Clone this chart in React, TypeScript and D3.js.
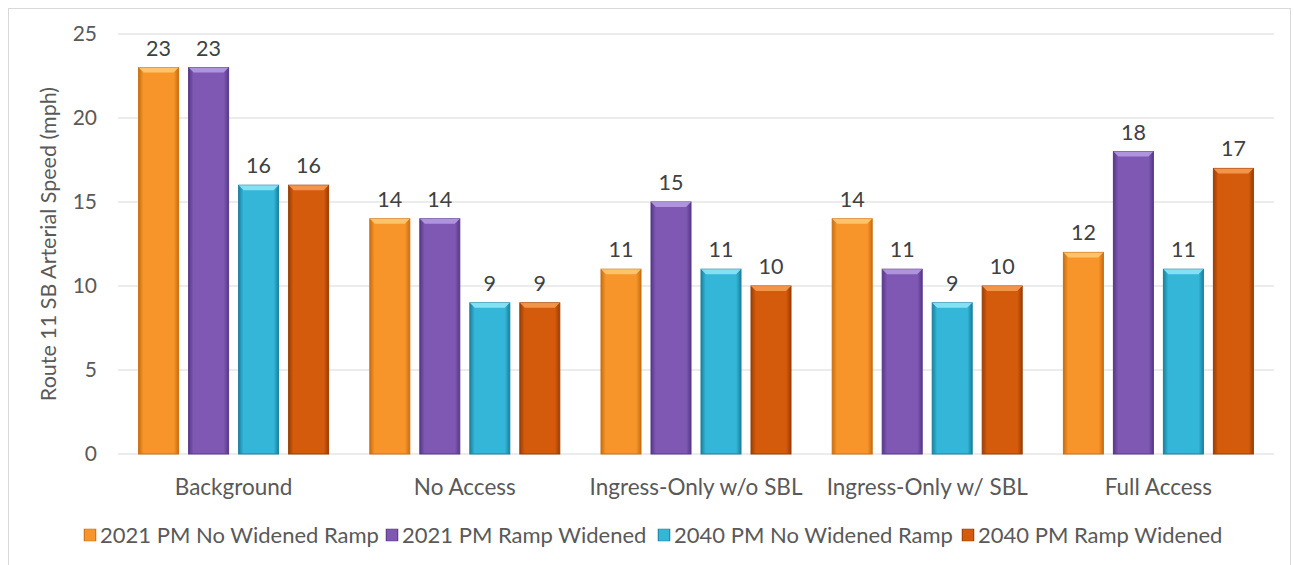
import React from "react";
import * as d3 from "d3";

const categories = ["Background", "No Access", "Ingress-Only w/o SBL", "Ingress-Only w/ SBL", "Full Access"];
const seriesNames = ["2021 PM No Widened Ramp", "2021 PM Ramp Widened", "2040 PM No Widened Ramp", "2040 PM Ramp Widened"];
const s2021NoWiden = [23, 14, 11, 14, 12];
const s2021Widen = [23, 14, 15, 11, 18];
const s2040NoWiden = [16, 9, 11, 9, 11];
const s2040Widen = [16, 9, 10, 10, 17];
const yTicks = [0, 5, 10, 15, 20, 25];

const seriesValues = [s2021NoWiden, s2021Widen, s2040NoWiden, s2040Widen];
const colors = [
  { base: "#F7952A", dark: "#C96E10", light: "#FFC870" },
  { base: "#7E58B2", dark: "#57388A", light: "#B59AE0" },
  { base: "#33B6D8", dark: "#1B809E", light: "#8FE4F7" },
  { base: "#D45A0C", dark: "#9A3E05", light: "#F59A50" },
];

const width = 1294;
const height = 565;
const plot = { left: 118, right: 1274, top: 34, bottom: 454 };

const x0 = d3.scaleBand<string>().domain(categories).range([plot.left, plot.right]);
const x1 = d3
  .scaleBand<number>()
  .domain(d3.range(seriesNames.length))
  .range([0, 200])
  .paddingInner(0.2)
  .paddingOuter(0.1);
const y = d3.scaleLinear().domain([0, 25]).range([plot.bottom, plot.top]);

const font = "Lato, 'Open Sans', sans-serif";

const App = () => {
  const groupOffset = (x0.bandwidth() - 200) / 2;
  const bw = x1.bandwidth();
  const legendX = [82, 384, 656, 960];
  return (
    <svg width={width} height={height} style={{ position: "absolute", left: 0, top: 0 }}>
      <defs>
        {colors.map((c, i) => (
          <linearGradient key={i} id={`g${i}`} x1="0" x2="1" y1="0" y2="0">
            <stop offset="0" stopColor={c.dark} />
            <stop offset="0.12" stopColor={c.base} />
            <stop offset="0.5" stopColor={c.base} />
            <stop offset="0.88" stopColor={c.base} />
            <stop offset="1" stopColor={c.dark} />
          </linearGradient>
        ))}
      </defs>
      <rect x={8.5} y={8.5} width={1282} height={560} fill="#fff" stroke="#d9d9d9" />
      {yTicks.map((t) => (
        <g key={t}>
          <line x1={plot.left} x2={plot.right} y1={y(t)} y2={y(t)} stroke="#d9d9d9" strokeWidth={1} />
          <text x={97} y={y(t)} dy="0.35em" textAnchor="end" fontFamily={font} fontSize={21} fill="#595959">
            {t}
          </text>
        </g>
      ))}
      <text
        transform={`translate(56, 244) rotate(-90)`}
        textAnchor="middle"
        fontFamily={font}
        fontSize={21.5}
        fill="#595959"
      >
        Route 11 SB Arterial Speed (mph)
      </text>
      {categories.map((cat, ci) => (
        <g key={cat} transform={`translate(${(x0(cat) ?? 0) + groupOffset}, 0)`}>
          {seriesValues.map((vals, si) => {
            const bx = x1(si) ?? 0;
            const by = y(vals[ci]);
            const bh = plot.bottom - by;
            const c = colors[si];
            const bev = 5;
            return (
              <g key={si}>
                <rect x={bx} y={by} width={bw} height={bh} fill={`url(#g${si})`} stroke={c.dark} strokeWidth={1} />
                <path
                  d={`M${bx},${by} L${bx + bw},${by} L${bx + bw - bev},${by + bev} L${bx + bev},${by + bev} Z`}
                  fill={c.light}
                  opacity={0.9}
                />
                <text
                  x={bx + bw / 2}
                  y={by - 12}
                  textAnchor="middle"
                  fontFamily={font}
                  fontSize={21.5}
                  fill="#404040"
                >
                  {vals[ci]}
                </text>
              </g>
            );
          })}
          <text x={x0.bandwidth() / 2 - groupOffset} y={495} textAnchor="middle" fontFamily={font} fontSize={22.5} fill="#595959">
            {cat}
          </text>
        </g>
      ))}
      {seriesNames.map((name, i) => (
        <g key={name} transform={`translate(${legendX[i]}, 535)`}>
          <rect x={2} y={-6} width={12} height={12} fill={`url(#g${i})`} stroke={colors[i].dark} strokeWidth={0.5} />
          <text x={18} y={0} dy="0.35em" fontFamily={font} fontSize={22} fill="#595959">
            {name}
          </text>
        </g>
      ))}
    </svg>
  );
};

export default App;
